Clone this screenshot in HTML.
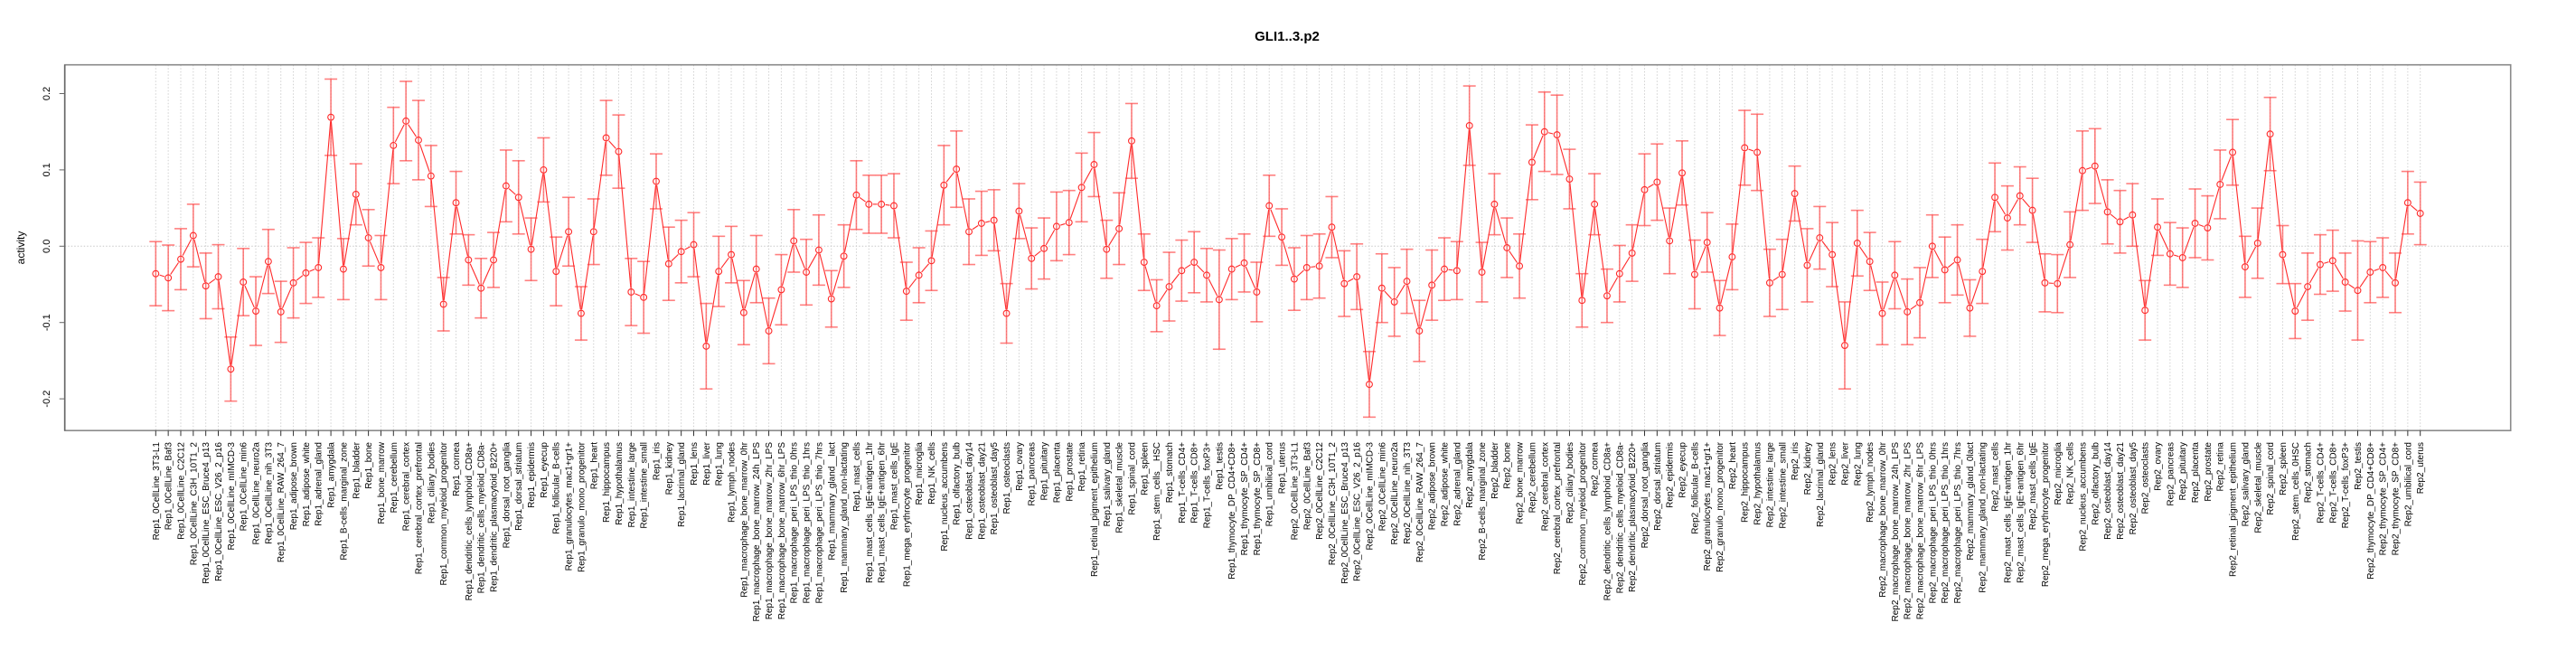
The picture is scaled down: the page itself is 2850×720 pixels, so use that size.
<!DOCTYPE html>
<html><head><meta charset="utf-8"><style>
body{margin:0;background:#fff;}
svg{display:block;font-family:"Liberation Sans",Arial,sans-serif;}
</style></head><body>
<svg id="chart" width="2850" height="720">
<text x="1424" y="45" text-anchor="middle" font-size="15" font-weight="bold">GLI1..3.p2</text>
<text x="0" y="0" transform="translate(27,274) rotate(-90)" text-anchor="middle" font-size="12">activity</text>
</svg>
<script>
const tissues = ["0CellLine_3T3-L1","0CellLine_Baf3","0CellLine_C2C12","0CellLine_C3H_10T1_2","0CellLine_ESC_Bruce4_p13","0CellLine_ESC_V26_2_p16","0CellLine_mIMCD-3","0CellLine_min6","0CellLine_neuro2a","0CellLine_nih_3T3","0CellLine_RAW_264_7","adipose_brown","adipose_white","adrenal_gland","amygdala","B-cells_marginal_zone","bladder","bone","bone_marrow","cerebellum","cerebral_cortex","cerebral_cortex_prefrontal","ciliary_bodies","common_myeloid_progenitor","cornea","dendritic_cells_lymphoid_CD8a+","dendritic_cells_myeloid_CD8a-","dendritic_plasmacytoid_B220+","dorsal_root_ganglia","dorsal_striatum","epidermis","eyecup","follicular_B-cells","granulocytes_mac1+gr1+","granulo_mono_progenitor","heart","hippocampus","hypothalamus","intestine_large","intestine_small","iris","kidney","lacrimal_gland","lens","liver","lung","lymph_nodes","macrophage_bone_marrow_0hr","macrophage_bone_marrow_24h_LPS","macrophage_bone_marrow_2hr_LPS","macrophage_bone_marrow_6hr_LPS","macrophage_peri_LPS_thio_0hrs","macrophage_peri_LPS_thio_1hrs","macrophage_peri_LPS_thio_7hrs","mammary_gland__lact","mammary_gland_non-lactating","mast_cells","mast_cells_IgE+antigen_1hr","mast_cells_IgE+antigen_6hr","mast_cells_IgE","mega_erythrocyte_progenitor","microglia","NK_cells","nucleus_accumbens","olfactory_bulb","osteoblast_day14","osteoblast_day21","osteoblast_day5","osteoclasts","ovary","pancreas","pituitary","placenta","prostate","retina","retinal_pigment_epithelium","salivary_gland","skeletal_muscle","spinal_cord","spleen","stem_cells__HSC","stomach","T-cells_CD4+","T-cells_CD8+","T-cells_foxP3+","testis","thymocyte_DP_CD4+CD8+","thymocyte_SP_CD4+","thymocyte_SP_CD8+","umbilical_cord","uterus"];
const categories = tissues.map(t=>"Rep1_"+t).concat(tissues.map(t=>"Rep2_"+(t==="mammary_gland__lact"?"mammary_gland_0lact":t==="stem_cells__HSC"?"stem_cells_0HSC":t)));
const rep1Values = [-0.036,-0.0415,-0.017,0.014,-0.052,-0.040,-0.161,-0.047,-0.085,-0.020,-0.086,-0.048,-0.035,-0.028,0.169,-0.030,0.068,0.011,-0.028,0.132,0.164,0.139,0.092,-0.076,0.057,-0.018,-0.055,-0.018,0.079,0.064,-0.004,0.100,-0.033,0.019,-0.088,0.019,0.142,0.124,-0.060,-0.067,0.085,-0.023,-0.007,0.002,-0.131,-0.033,-0.011,-0.087,-0.030,-0.111,-0.057,0.007,-0.034,-0.005,-0.069,-0.013,0.067,0.055,0.055,0.053,-0.059,-0.038,-0.019,0.080,0.101,0.019,0.030,0.034,-0.088,0.046,-0.016,-0.003,0.026,0.031,0.077,0.107,-0.004,0.023,0.138,-0.021,-0.078,-0.053,-0.032,-0.021,-0.038,-0.070,-0.030,-0.022,-0.060,0.053,0.012];
const rep1Errors = [0.042,0.043,0.040,0.041,0.043,0.042,0.042,0.044,0.045,0.042,0.040,0.046,0.040,0.039,0.050,0.040,0.040,0.037,0.042,0.050,0.052,0.052,0.040,0.035,0.041,0.033,0.039,0.036,0.047,0.048,0.041,0.042,0.045,0.045,0.035,0.043,0.049,0.048,0.044,0.047,0.036,0.048,0.041,0.042,0.056,0.046,0.037,0.042,0.044,0.043,0.046,0.041,0.043,0.046,0.037,0.041,0.045,0.038,0.038,0.042,0.038,0.036,0.039,0.052,0.050,0.043,0.042,0.040,0.039,0.036,0.040,0.040,0.045,0.042,0.045,0.042,0.038,0.047,0.049,0.037,0.034,0.045,0.040,0.040,0.035,0.065,0.040,0.038,0.039,0.040,0.037];
const rep2Values = [-0.043,-0.028,-0.026,0.025,-0.049,-0.040,-0.181,-0.055,-0.073,-0.046,-0.111,-0.051,-0.030,-0.032,0.158,-0.034,0.055,-0.002,-0.026,0.110,0.150,0.146,0.088,-0.071,0.055,-0.065,-0.036,-0.009,0.074,0.084,0.007,0.096,-0.037,0.005,-0.081,-0.014,0.129,0.123,-0.048,-0.037,0.069,-0.025,0.011,-0.011,-0.130,0.004,-0.020,-0.088,-0.038,-0.086,-0.074,0.000,-0.031,-0.018,-0.081,-0.033,0.064,0.037,0.066,0.047,-0.048,-0.049,0.002,0.099,0.105,0.045,0.032,0.041,-0.084,0.025,-0.010,-0.015,0.030,0.024,0.081,0.123,-0.027,0.004,0.147,-0.011,-0.085,-0.053,-0.024,-0.019,-0.047,-0.058,-0.034,-0.028,-0.048,0.057,0.043];
const rep2Errors = [0.041,0.042,0.042,0.040,0.043,0.043,0.043,0.045,0.045,0.042,0.040,0.046,0.041,0.038,0.052,0.039,0.040,0.039,0.042,0.049,0.052,0.052,0.039,0.035,0.040,0.035,0.037,0.037,0.047,0.050,0.043,0.042,0.045,0.039,0.036,0.043,0.049,0.050,0.044,0.046,0.036,0.048,0.041,0.042,0.057,0.043,0.038,0.041,0.044,0.043,0.046,0.041,0.043,0.046,0.037,0.042,0.045,0.042,0.038,0.042,0.038,0.038,0.043,0.052,0.049,0.042,0.041,0.041,0.039,0.037,0.041,0.039,0.045,0.042,0.045,0.043,0.040,0.046,0.048,0.038,0.036,0.044,0.039,0.040,0.038,0.065,0.040,0.039,0.039,0.041,0.041];
const yTicks = [-0.2,-0.1,0.0,0.1,0.2];
const yTickLabels = ["-0.2","-0.1","0.0","0.1","0.2"];

const values = rep1Values.concat(rep2Values);
const errors = rep1Errors.concat(rep2Errors);
const NS = "http://www.w3.org/2000/svg";
const svg = document.getElementById('chart');
const L = 71.7, R = 2777.7, T = 71.7, B = 476.2;
const x0 = 172.3, x1 = 2677.7;
const n = categories.length;
function xScale(i){ return x0 + (x1 - x0) * i / (n - 1); }
function yScale(v){ return 272.3 - v * 844; }
function mk(tag, attrs){ const e = document.createElementNS(NS, tag); for (const k in attrs) e.setAttribute(k, attrs[k]); svg.appendChild(e); return e; }

// grid
for (let i = 0; i < n; i++) {
  const g = mk('line', {x1: xScale(i), x2: xScale(i), y1: T, y2: B, stroke: '#d0d0d0', 'stroke-width': 1, 'stroke-dasharray': '1.5,2'});
  
  
}
const zl = mk('line', {x1: L, x2: R, y1: yScale(0), y2: yScale(0), stroke: '#c8c8c8', 'stroke-width': 1, 'stroke-dasharray': '1.5,2'});



// error bars
for (let i = 0; i < n; i++) {
  const x = xScale(i), yt = yScale(values[i] + errors[i]), yb = yScale(values[i] - errors[i]);
  const g = document.createElementNS(NS, 'g'); svg.appendChild(g);
  
  
  g.setAttribute('stroke', 'rgba(255,60,60,0.65)');
  g.setAttribute('stroke-width', '1.6');
  [[x, yt, x, yb], [x - 7, yt, x + 7, yt], [x - 7, yb, x + 7, yb]].forEach(c => {
    const l = document.createElementNS(NS, 'line');
    l.setAttribute('x1', c[0]); l.setAttribute('y1', c[1]); l.setAttribute('x2', c[2]); l.setAttribute('y2', c[3]);
    g.appendChild(l);
  });
}
// connecting segments with gaps
for (let i = 0; i < n - 1; i++) {
  const ax = xScale(i), ay = yScale(values[i]), bx = xScale(i + 1), by = yScale(values[i + 1]);
  const d = Math.hypot(bx - ax, by - ay); if (d < 10) continue;
  const ux = (bx - ax) / d, uy = (by - ay) / d, gap = 4.5;
  const s = mk('line', {x1: ax + ux * gap, y1: ay + uy * gap, x2: bx - ux * gap, y2: by - uy * gap, stroke: '#ff2a2a', 'stroke-width': 1.1});
  
  
}
// points
for (let i = 0; i < n; i++) {
  const c = mk('circle', {cx: xScale(i), cy: yScale(values[i]), r: 3.4, fill: 'none', stroke: '#ff2a2a', 'stroke-width': 1.1});
  
  
}
// box
const box = mk('rect', {x: L, y: T, width: R - L, height: B - T, fill: 'none', stroke: '#8a8a8a', 'stroke-width': 1.6});


const la = mk('line', {x1: L, x2: L, y1: T, y2: B, stroke: '#666', 'stroke-width': 1.6});


// y ticks
yTicks.forEach((v, k) => {
  const y = yScale(v);
  const t = mk('line', {x1: L - 6, x2: L, y1: y, y2: y, stroke: '#666', 'stroke-width': 1});
  
  
  const tx = mk('text', {transform: 'translate(55,' + y + ') rotate(-90)', 'text-anchor': 'middle', 'font-size': 11});
  tx.textContent = yTickLabels[k];
  
  
});
// x ticks and labels
for (let i = 0; i < n; i++) {
  const x = xScale(i);
  const t = mk('line', {x1: x, x2: x, y1: B, y2: B + 6, stroke: '#333', 'stroke-width': 1});
  
  
  const tx = mk('text', {transform: 'translate(' + (x + 3.5) + ',489) rotate(-90)', 'text-anchor': 'end', 'font-size': 10});
  tx.textContent = categories[i];
  
  
}
</script>
</body></html>
